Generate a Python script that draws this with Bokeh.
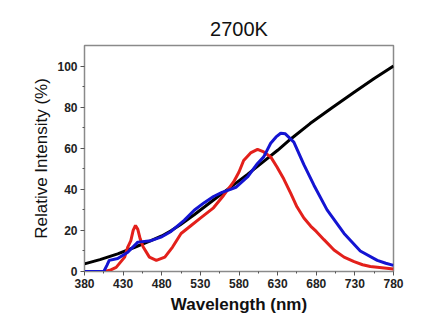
from bokeh.plotting import figure
from bokeh.models import FixedTicker, Range1d
from bokeh.embed import file_html
from bokeh.resources import INLINE

# Black (blackbody 2700K reference)
bb_wl = [380, 400, 423, 445, 466, 480, 492, 504, 522, 547, 570, 591, 610, 630, 647, 672, 700, 730, 755, 780]
bb_val = [3.7, 5.8, 8.6, 11.8, 15.0, 17.3, 19.8, 22.8, 27.6, 34.8, 41.3, 47.3, 53.0, 59.0, 64.5, 72.0, 79.6, 87.5, 93.9, 100.0]

# Red spectrum
red_wl = [380, 406, 414, 421, 432, 436, 440, 443, 446, 449, 452, 456, 464, 473, 484, 494, 505, 518, 530,
          547, 560, 573, 580, 586, 595, 604, 612, 621, 629, 638, 647, 655, 664, 673, 680, 690,
          703, 716, 729, 740, 750, 765, 780]
red_val = [0, 0, 0.8, 2, 7, 11.9, 15, 20, 22.4, 20.5, 16, 11.9, 7, 5.4, 7, 11.9, 18.5, 22.4, 26,
           31, 37, 43.6, 48.4, 54, 57.7, 59.4, 58.2, 55.8, 51, 45, 38, 31.5, 26, 22, 19.5, 15.5,
           10.5, 7, 4.8, 3.3, 2.4, 1.8, 1.2]

# Blue spectrum
blue_wl = [380, 405, 409, 412, 423, 436, 449, 466, 479, 492, 509, 522, 535, 547, 558, 569, 576, 582,
           591, 604, 612, 621, 628, 634, 640, 651, 664, 677, 694, 716, 737, 759, 770, 780]
blue_val = [0, 0, 3, 5.4, 6.3, 9.4, 14.3, 15, 16.7, 19.5, 24.9, 29.8, 33.5, 36.5, 38.5, 40, 41, 43,
            46, 52.6, 55.8, 62.4, 65.5, 67.3, 67, 63, 52, 42, 30, 18.5, 10, 5.4, 4, 3]

x_ticks = [380, 430, 480, 530, 580, 630, 680, 730, 780]
x_minor = [405, 455, 505, 555, 605, 655, 705, 755]
y_ticks = [0, 20, 40, 60, 80, 100]
y_minor = [10, 30, 50, 70, 90]

p = figure(width=416, height=316, output_backend="svg", toolbar_location=None,
           x_range=Range1d(380, 780), y_range=Range1d(0, 110),
           min_border_left=84, min_border_right=23, min_border_top=45, min_border_bottom=40,
           title="2700K")
p.title.align = "center"
p.title.text_font = "Liberation Sans"
p.title.text_font_size = "20px"
p.title.text_font_style = "normal"
p.title.text_color = "#111111"
p.title.standoff = 11

p.line(bb_wl, bb_val, line_color="black", line_width=3)
p.line(red_wl, red_val, line_color="#e3201b", line_width=3)
p.line(blue_wl, blue_val, line_color="#1414d2", line_width=3)

p.grid.visible = False
p.outline_line_color = "#8a8a8a"
p.outline_line_width = 1.5

p.xaxis.ticker = FixedTicker(ticks=x_ticks, minor_ticks=x_minor)
p.yaxis.ticker = FixedTicker(ticks=y_ticks, minor_ticks=y_minor)
p.xaxis.axis_label = "Wavelength (nm)"
p.yaxis.axis_label = "Relative Intensity (%)"
for ax in (p.xaxis, p.yaxis):
    ax.axis_line_color = "#8a8a8a"
    ax.major_tick_line_color = "#555555"
    ax.minor_tick_line_color = "#555555"
    ax.major_tick_out = 4
    ax.major_tick_in = 0
    ax.minor_tick_out = 2
    ax.minor_tick_in = 0
    ax.major_label_text_font = "Liberation Sans"
    ax.major_label_text_font_size = "12px"
    ax.major_label_text_font_style = "bold"
    ax.major_label_text_color = "#222222"
    ax.axis_label_text_font = "Liberation Sans"
    ax.axis_label_text_font_size = "17px"
    ax.axis_label_text_color = "#111111"
    ax.major_label_standoff = 3
p.xaxis.axis_label_text_font_style = "bold"
p.yaxis.axis_label_text_font_style = "normal"
p.xaxis.axis_label_standoff = 4
p.yaxis.axis_label_standoff = 3

open("out.html", "w").write(file_html(p, INLINE))
